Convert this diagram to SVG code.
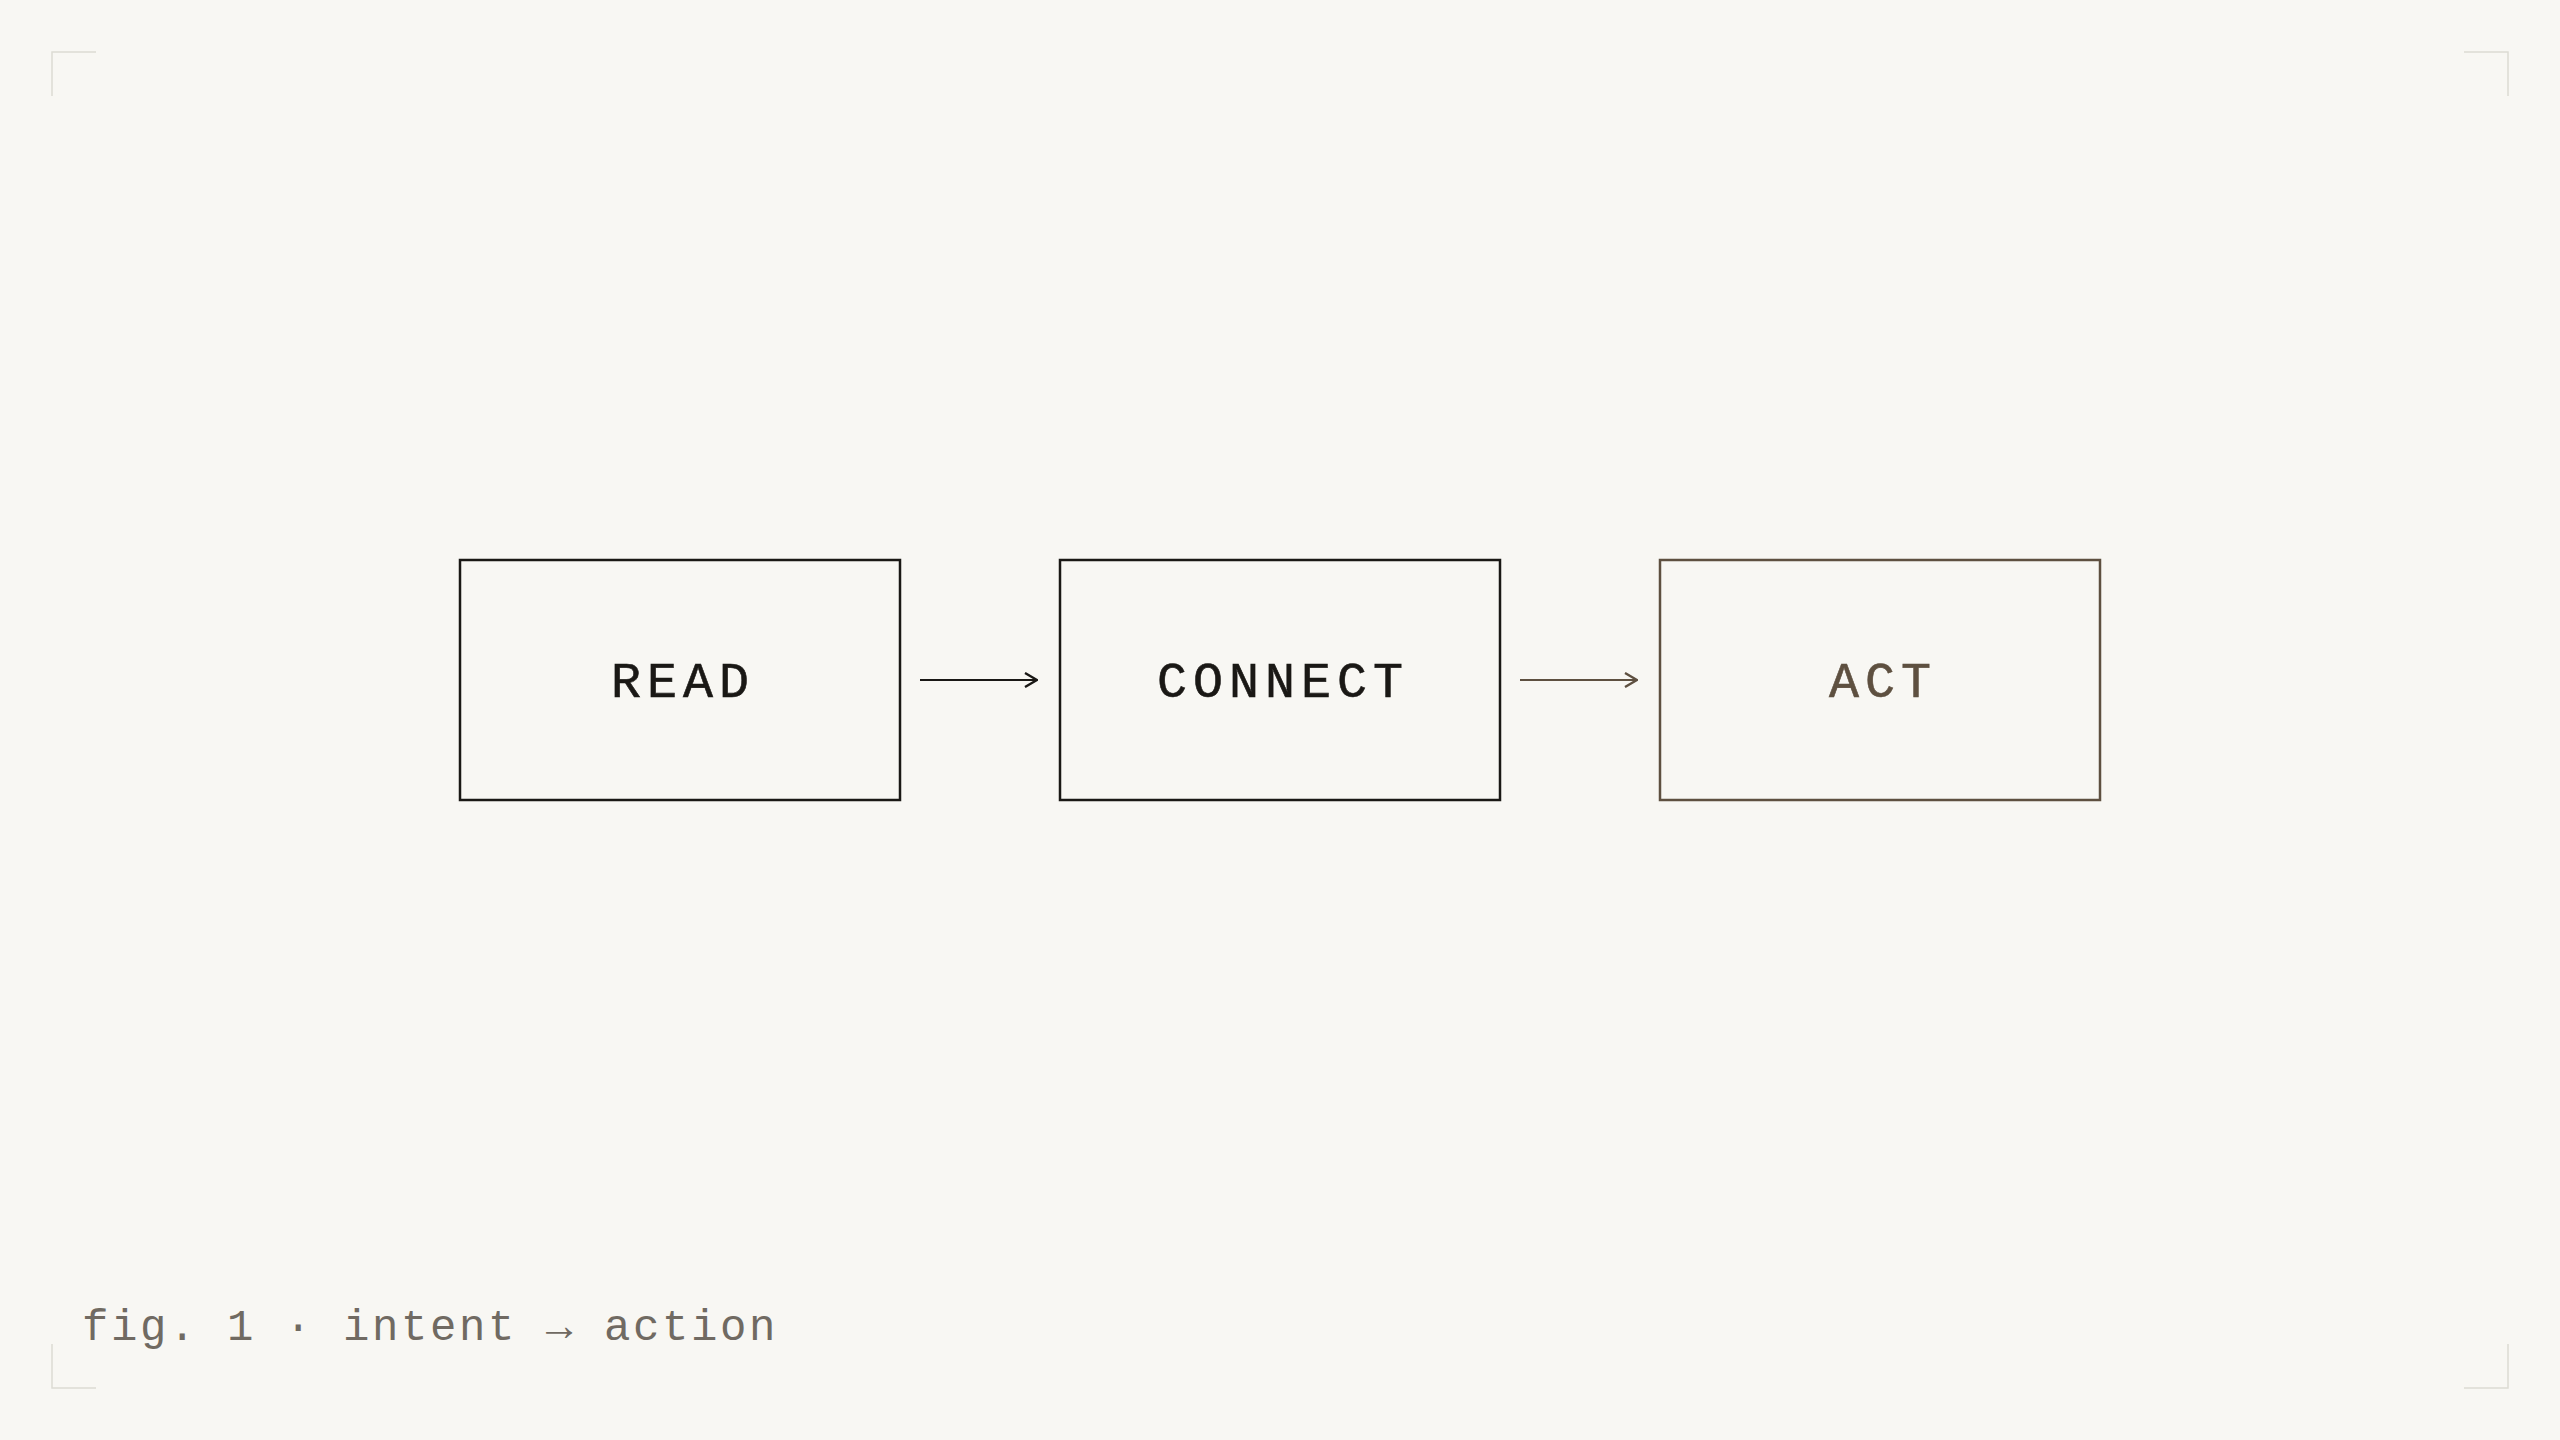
<svg xmlns="http://www.w3.org/2000/svg" width="2560" height="1440" viewBox="0 0 2560 1440">
  <style>
    .box { fill: none; stroke: #1a1815; stroke-width: 2.5; }
    .box.accent { stroke: #5e5040; }
    .label { font-family: "Liberation Mono", "DejaVu Sans Mono", monospace; font-size: 50px; letter-spacing: 6px; fill: #1a1815; text-anchor: middle; stroke: #1a1815; stroke-width: 0.6; }
    .label.accent { fill: #5e5040; stroke: #5e5040; }
    .conn { fill: none; stroke: #1a1815; stroke-width: 2.2; }
    .conn.accent { stroke: #5e5040; }
    .corner { fill: none; stroke: #dcdbd4; stroke-width: 1.5; }
    .caption { font-family: "Liberation Mono", "DejaVu Sans Mono", monospace; font-size: 44px; letter-spacing: 2.6px; fill: #706a62; }
  </style>
  <defs>
    <marker id="arrow" viewBox="0 0 14 16" refX="13" refY="8" markerWidth="14" markerHeight="16" markerUnits="userSpaceOnUse" orient="auto">
      <path d="M1,1 L13,8 L1,15" fill="none" stroke="#1a1815" stroke-width="2.4"/>
    </marker>
    <marker id="arrowAccent" viewBox="0 0 14 16" refX="13" refY="8" markerWidth="14" markerHeight="16" markerUnits="userSpaceOnUse" orient="auto">
      <path d="M1,1 L13,8 L1,15" fill="none" stroke="#5e5040" stroke-width="2.4"/>
    </marker>
  </defs>
  <rect x="0" y="0" width="2560" height="1440" fill="#f8f7f3"/>
  <g id="corners">
    <path class="corner" d="M52,96 V52 H96"/>
    <path class="corner" d="M2464,52 H2508 V96"/>
    <path class="corner" d="M52,1344 V1388 H96"/>
    <path class="corner" d="M2464,1388 H2508 V1344"/>
  </g>
  <g id="node-read">
    <rect class="box" x="460" y="560" width="440" height="240"/>
    <text class="label" x="683" y="697">READ</text>
  </g>
  <g id="node-connect">
    <rect class="box" x="1060" y="560" width="440" height="240"/>
    <text class="label" x="1283" y="697">CONNECT</text>
  </g>
  <g id="node-act">
    <rect class="box accent" x="1660" y="560" width="440" height="240"/>
    <text class="label accent" x="1883" y="697">ACT</text>
  </g>
  <g id="connectors">
    <line class="conn" x1="920" y1="680" x2="1037" y2="680" marker-end="url(#arrow)"/>
    <line class="conn accent" x1="1520" y1="680" x2="1637" y2="680" marker-end="url(#arrowAccent)"/>
  </g>
  <text class="caption" x="82" y="1340">fig. 1 · intent → action</text>
</svg>
